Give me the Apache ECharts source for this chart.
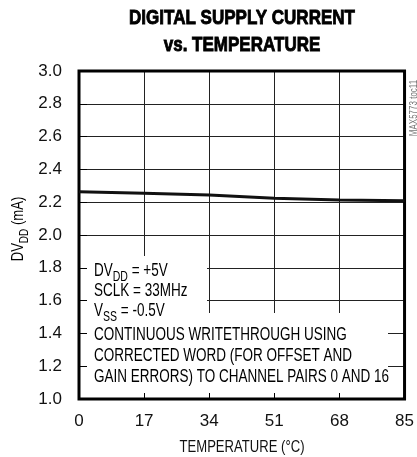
<!DOCTYPE html>
<html>
<head>
<meta charset="utf-8">
<script src="https://cdn.jsdelivr.net/npm/echarts@6/dist/echarts.min.js"></script>
<style>
  html, body { margin: 0; padding: 0; background: #fff; }
  #chart { width: 417px; height: 457px; }
</style>
</head>
<body>
<div id="chart"></div>
<script>
  // data
  const temps = [0, 17, 34, 51, 68, 85];
  const dvdd = [2.264, 2.254, 2.244, 2.224, 2.213, 2.209];
  const xTicks = [0, 85, 17];      // min, max, step
  const yTicks = [1.0, 3.0, 0.2];
  const titleLines = ['DIGITAL SUPPLY CURRENT', 'vs. TEMPERATURE'];
  const xName = 'TEMPERATURE (°C)';
  const yName = '{n|DV}{s|DD}{n| (mA)}';
  const notes = [
    '{n|DV}{s|DD}{n| = +5V}',
    '{n|SCLK = 33MHz}',
    '{n|V}{s|SS}{n| = -0.5V}',
    '{n|CONTINUOUS WRITETHROUGH USING}',
    '{n|CORRECTED WORD (FOR OFFSET AND}',
    '{n|GAIN ERRORS) TO CHANNEL PAIRS 0 AND 16}'
  ];

  // no narrow face installed, so squeeze regular text with scaleX
  const face = '"Liberation Sans", Arial, sans-serif';
  const SQ = 0.75;
  const rich = (size) => ({
    n: { fontFamily: face, fontSize: size, color: '#111', verticalAlign: 'bottom', lineHeight: size + 2 },
    s: { fontFamily: face, fontSize: size - 4, color: '#111', verticalAlign: 'bottom', lineHeight: size + 2, padding: [0, 0, -4, 0] }
  });

  const chart = echarts.init(document.getElementById('chart'));

  const series = temps.map((t, i) => [t, dvdd[i]]);

  const baseX = {
    type: 'value', min: xTicks[0], max: xTicks[1], interval: xTicks[2], position: 'bottom'
  };
  const baseY = {
    type: 'value', min: yTicks[0], max: yTicks[1], interval: yTicks[2], position: 'left'
  };

  const noteY = [270, 290, 310, 334, 355, 376];
  const noteGraphics = notes.map((txt, i) => ({
    type: 'text',
    x: 94, y: noteY[i],
    scaleX: SQ,
    z: 2,
    style: { text: txt, rich: rich(18), verticalAlign: 'middle' }
  }));

  // heavy condensed title: bold face plus a thin stroke
  const titleGraphics = titleLines.map((txt, i) => ({
    type: 'text',
    x: 242, y: [18, 45][i],
    scaleX: 0.81,
    z: 2,
    style: {
      text: txt, fontFamily: face, fontWeight: 'bold', fontSize: 21, fill: '#000',
      stroke: '#000', lineWidth: 0.9,
      align: 'center', verticalAlign: 'middle'
    }
  }));

  const option = {
    animation: false,
    backgroundColor: '#fff',
    grid: {
      left: 79, right: 11, top: 71, bottom: 58,
      show: true, borderColor: '#000', borderWidth: 3, backgroundColor: 'transparent', z: 5
    },
    xAxis: [
      Object.assign({}, baseX, {
        z: 0,
        axisLine: { show: false },
        axisTick: { show: false },
        axisLabel: { margin: 14, fontFamily: face, fontSize: 17, color: '#111' },
        splitLine: { show: true, lineStyle: { color: '#222', width: 1 } }
      }),
      Object.assign({}, baseX, {
        z: 4,
        axisLine: { show: false },
        axisTick: { show: true, inside: true, length: 6, lineStyle: { color: '#000', width: 1 } },
        axisLabel: { show: false },
        splitLine: { show: false }
      })
    ],
    yAxis: [
      Object.assign({}, baseY, {
        z: 0,
        axisLine: { show: false },
        axisTick: { show: false },
        axisLabel: { margin: 17, fontFamily: face, fontSize: 17, color: '#111', formatter: v => v.toFixed(1) },
        splitLine: { show: true, lineStyle: { color: '#222', width: 1 } }
      }),
      Object.assign({}, baseY, {
        z: 4,
        axisLine: { show: false },
        axisTick: { show: true, inside: true, length: 8, lineStyle: { color: '#000', width: 1 } },
        axisLabel: { show: false },
        splitLine: { show: false }
      })
    ],
    graphic: [
      // white backing behind the condition notes
      { type: 'rect', z: 1, shape: { x: 87, y: 256, width: 120, height: 60 }, style: { fill: '#fff' } },
      { type: 'rect', z: 1, shape: { x: 87, y: 313, width: 301, height: 80 }, style: { fill: '#fff' } },
      {
        type: 'text', x: 242, y: 447, scaleX: 0.77, z: 2,
        style: { text: xName, fontFamily: face, fontSize: 17, fill: '#111', align: 'center', verticalAlign: 'middle' }
      },
      {
        type: 'text', x: 17, y: 229, rotation: Math.PI / 2, scaleX: 0.77, z: 2,
        style: { text: yName, rich: rich(17), align: 'center', verticalAlign: 'middle' }
      },
      {
        type: 'text', x: 414, y: 108, rotation: Math.PI / 2, scaleX: 0.8, z: 2,
        style: { text: 'MAX5773 toc11', fontFamily: face, fontSize: 10, fill: '#777', align: 'center', verticalAlign: 'middle' }
      }
    ].concat(titleGraphics, noteGraphics),
    series: [
      {
        type: 'line',
        xAxisIndex: 0, yAxisIndex: 0,
        data: series,
        symbol: 'none',
        z: 6,
        lineStyle: { color: '#111', width: 3 }
      }
    ]
  };

  chart.setOption(option);
  window.onresize = function() { chart.resize(); };
</script>
</body>
</html>
